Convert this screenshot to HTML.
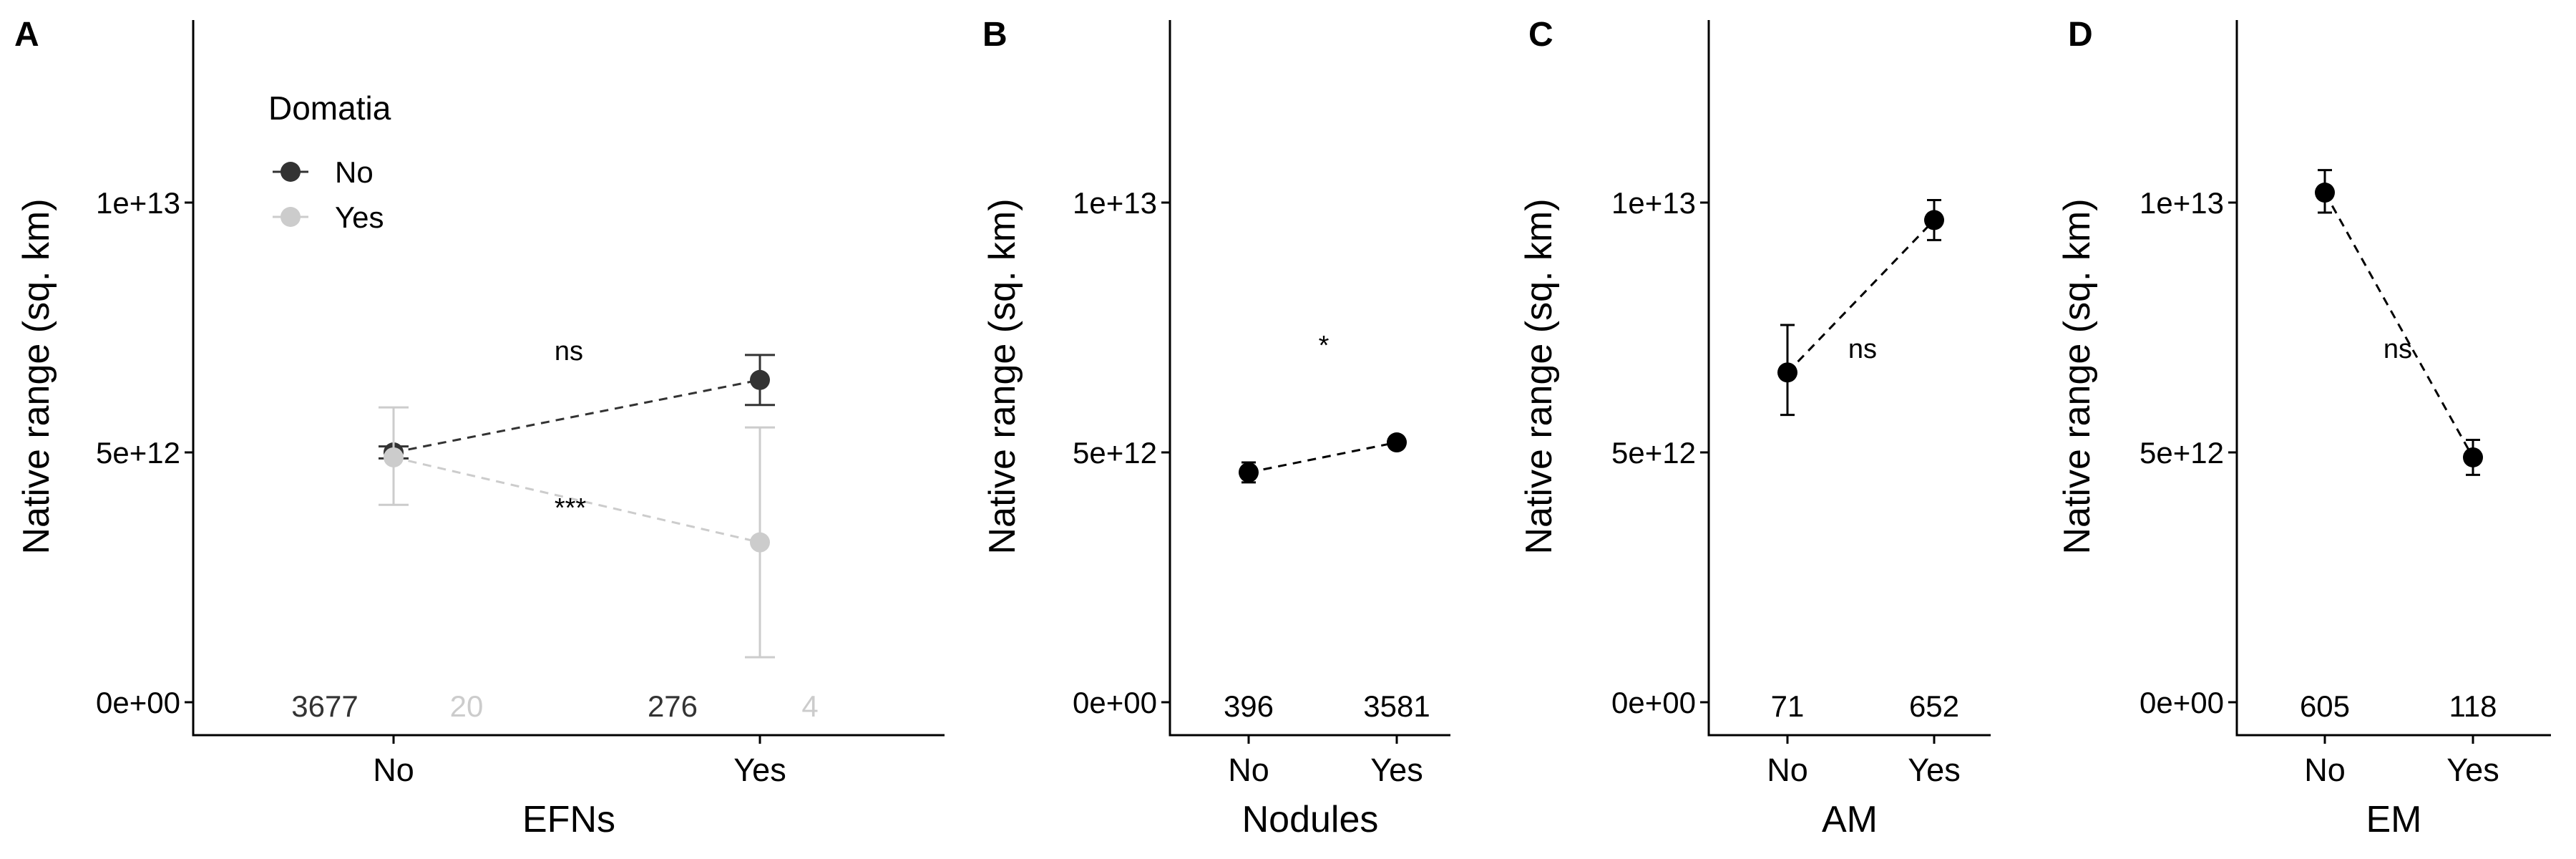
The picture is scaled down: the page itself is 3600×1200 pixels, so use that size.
<!DOCTYPE html>
<html><head><meta charset="utf-8"><style>
html,body{margin:0;padding:0;background:#fff}
svg{display:block;font-family:"Liberation Sans",Arial,sans-serif}
</style></head><body>
<svg id="c" width="3600" height="1200" viewBox="0 0 3600 1200"></svg>
<script>
const categories=["No","Yes"];
const tickValues=[0,5e12,1e13];
const tickLabels=["0e+00","5e+12","1e+13"];
// Panel A
const aNoMean=[5.0e12,6.45e12], aNoLo=[4.88e12,5.95e12], aNoHi=[5.12e12,6.95e12];
const aYesMean=[4.9e12,3.2e12], aYesLo=[3.95e12,0.9e12], aYesHi=[5.9e12,5.5e12];
const aNoCounts=["3677","276"], aYesCounts=["20","4"];
// Panels B-D
const bMean=[4.6e12,5.2e12], bLo=[4.4e12,5.12e12], bHi=[4.8e12,5.28e12], bCounts=["396","3581"];
const cMean=[6.6e12,9.65e12], cLo=[5.75e12,9.25e12], cHi=[7.55e12,10.05e12], cCounts=["71","652"];
const dMean=[10.2e12,4.9e12], dLo=[9.8e12,4.55e12], dHi=[10.65e12,5.25e12], dCounts=["605","118"];

const svg=document.getElementById('c');
const NS="http://www.w3.org/2000/svg";
function mk(tag,attrs,parent){const e=document.createElementNS(NS,tag);for(const k in attrs)e.setAttribute(k,attrs[k]);(parent||svg).appendChild(e);return e;}
function yS(v){return 981-(v/1e13)*(981-283);}
const TOP=28,BOT=1027;

function panel(cfg){
  const g=mk('g',{});
  
  
  const xS=i=>cfg.x0+i*(cfg.x1-cfg.x0);
  const lab=mk('text',{x:cfg.lx,y:64,'font-size':48,'font-weight':'bold'},g);lab.textContent=cfg.letter;
  
  const ya=mk('line',{x1:cfg.ax,y1:TOP,x2:cfg.ax,y2:BOT+1.5,stroke:'#000','stroke-width':3},g);
  
  const xa=mk('line',{x1:cfg.ax-1.5,y1:BOT,x2:cfg.right,y2:BOT,stroke:'#000','stroke-width':3},g);
  
  tickValues.forEach((v,i)=>{
    mk('line',{x1:cfg.ax-12,y1:yS(v),x2:cfg.ax,y2:yS(v),stroke:'#000','stroke-width':3},g);
    const t=mk('text',{x:cfg.ax-18,y:yS(v)+15,'font-size':42,'text-anchor':'end',fill:'#000'},g);t.textContent=tickLabels[i];
    
  });
  categories.forEach((c,i)=>{
    mk('line',{x1:xS(i),y1:BOT,x2:xS(i),y2:BOT+12,stroke:'#000','stroke-width':3},g);
    const t=mk('text',{x:xS(i),y:1091,'font-size':45,'text-anchor':'middle'},g);t.textContent=c;
    
  });
  const xt=mk('text',{x:(cfg.ax+cfg.right)/2,y:1162,'font-size':52,'text-anchor':'middle'},g);xt.textContent=cfg.xtitle;
  
  const yt=mk('text',{x:0,y:0,'font-size':52,'text-anchor':'middle',transform:`translate(${cfg.ytx},526) rotate(-90)`},g);yt.textContent='Native range (sq. km)';
  
  cfg.series.forEach(s=>{
    const ln=mk('line',{x1:xS(0),y1:yS(s.mean[0]),x2:xS(1),y2:yS(s.mean[1]),stroke:s.col,'stroke-width':3,'stroke-dasharray':'12 9'},g);
    
    s.mean.forEach((m,i)=>{
      const x=xS(i);
      const eb=mk('path',{d:`M${x-cfg.cap},${yS(s.hi[i])}H${x+cfg.cap}M${x},${yS(s.hi[i])}V${yS(s.lo[i])}M${x-cfg.cap},${yS(s.lo[i])}H${x+cfg.cap}`,stroke:s.col,'stroke-width':3,fill:'none'},g);
      
      const p=mk('circle',{cx:x,cy:yS(m),r:14,fill:s.col},g);
      
      const t=mk('text',{x:x+s.cdx[i],y:1001,'font-size':42,'text-anchor':'middle',fill:s.col},g);t.textContent=s.counts[i];
      
    });
  });
  cfg.ann.forEach(a=>{const t=mk('text',{x:a.x,y:a.y,'font-size':38,'text-anchor':'middle'},g);t.textContent=a.t;
    });
}
panel({letter:'A',lx:20,ax:270,right:1320,x0:550,x1:1062,cap:21,xtitle:'EFNs',ytx:68,
  series:[{col:'#333333',mean:aNoMean,lo:aNoLo,hi:aNoHi,counts:aNoCounts,cdx:[-96,-122]},
          {col:'#cccccc',mean:aYesMean,lo:aYesLo,hi:aYesHi,counts:aYesCounts,cdx:[102,70]}],
  ann:[{x:795,y:503,t:'ns'},{x:797,y:722,t:'***'}]});
panel({letter:'B',lx:1373,ax:1635,right:2027,x0:1745,x1:1952,cap:10,xtitle:'Nodules',ytx:1418,
  series:[{col:'#000',mean:bMean,lo:bLo,hi:bHi,counts:bCounts,cdx:[0,0]}],ann:[{x:1850,y:495,t:'*'}]});
panel({letter:'C',lx:2136,ax:2388,right:2782,x0:2498,x1:2703,cap:10,xtitle:'AM',ytx:2168,
  series:[{col:'#000',mean:cMean,lo:cLo,hi:cHi,counts:cCounts,cdx:[0,0]}],ann:[{x:2603,y:500,t:'ns'}]});
panel({letter:'D',lx:2890,ax:3126,right:3565,x0:3249,x1:3456,cap:10,xtitle:'EM',ytx:2920,
  series:[{col:'#000',mean:dMean,lo:dLo,hi:dHi,counts:dCounts,cdx:[0,0]}],ann:[{x:3351,y:500,t:'ns'}]});

// Legend
const lg=mk('g',{});


const lt=mk('text',{x:375,y:167,'font-size':46},lg);lt.textContent='Domatia';

[['No','#333333',240],['Yes','#cccccc',303]].forEach(([n,c,y])=>{
  const e=mk('g',{},lg);
  
  
  mk('line',{x1:381,y1:y,x2:431,y2:y,stroke:c,'stroke-width':3},e);
  mk('circle',{cx:406,cy:y,r:14,fill:c},e);
  const t=mk('text',{x:468,y:y+15,'font-size':42},e);t.textContent=n;
});
</script>
</body></html>
